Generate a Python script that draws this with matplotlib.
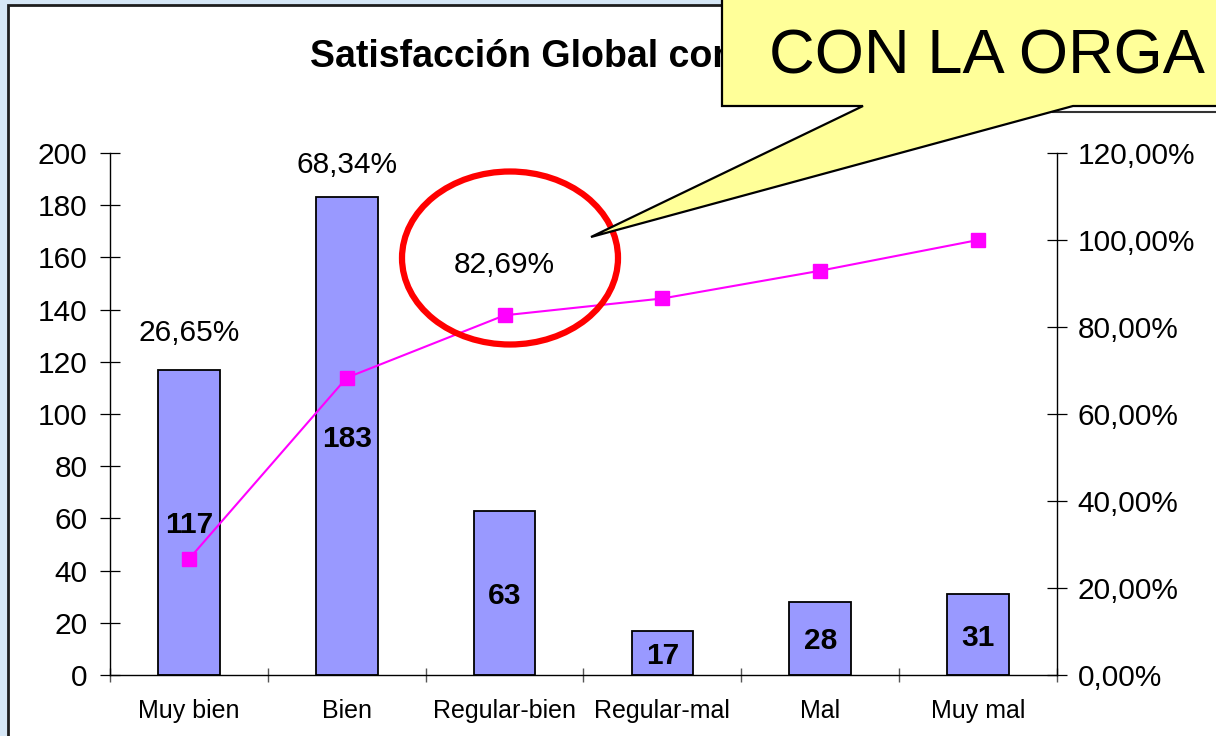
import matplotlib
matplotlib.use("Agg")
import matplotlib.pyplot as plt
from matplotlib.patches import Rectangle, Polygon, Ellipse
from matplotlib.lines import Line2D
import numpy as np

categories = ["Muy bien", "Bien", "Regular-bien", "Regular-mal", "Mal", "Muy mal"]
counts = [117, 183, 63, 17, 28, 31]
cum_pct = [0.2665, 0.6834, 0.8269, 0.8656, 0.9294, 1.0]
left_ticks = list(range(0, 201, 20))
right_ticks = [0.0, 0.2, 0.4, 0.6, 0.8, 1.0, 1.2]
title = "Satisfacción Global con"
callout_text = "CON LA ORGA"
# shown cumulative labels (index, text, y on left axis)
pct_labels = [(0, "26,65%", 128), (1, "68,34%", 192.5), (2, "82,69%", 154)]

plt.rcParams['font.family'] = ['Liberation Sans', 'DejaVu Sans']

W, H = 1216, 736
fig = plt.figure(figsize=(W / 100, H / 100), dpi=100, facecolor="#d6e7f6")

def fx(x):
    return x / W

def fy(y):
    return 1 - y / H

# white chart frame
frame = Rectangle((fx(8), fy(760)), fx(1300), (760 - 5) / H, transform=fig.transFigure,
                  facecolor="white", edgecolor="#1e1e1e", lw=2.0, zorder=-5)
fig.patches.append(frame)

ax = fig.add_axes([fx(110), fy(675), (1057 - 110) / W, (675 - 153) / H])
ax.patch.set_alpha(0)
x = np.arange(len(categories))
ax.bar(x, counts, width=0.39, color="#9999ff", edgecolor="black", lw=1.3, zorder=2)
ax.set_xlim(-0.5, len(categories) - 0.5)
ax.set_ylim(0, 200)
ax.set_yticks(left_ticks)
ax.tick_params(axis="y", direction="inout", length=14.5, width=0.9, labelsize=21.5, pad=9)
ax.set_xticks(x)
ax.set_xticklabels(categories)
ax.tick_params(axis="x", which="major", length=0, labelsize=18, pad=17)
ax.set_xticks(np.arange(-0.5, len(categories), 1.0), minor=True)
ax.tick_params(axis="x", which="minor", direction="inout", length=10, width=1.0, color="#555555")
for s in ["top", "right"]:
    ax.spines[s].set_visible(False)
for s in ["left", "bottom"]:
    ax.spines[s].set_linewidth(1.0)

for xi, c in zip(x, counts):
    ax.text(xi, c / 2, str(c), ha="center", va="center_baseline", fontsize=21.5, fontweight="bold", zorder=5)

for idx, txt, yy in pct_labels:
    ax.text(idx, yy, txt, ha="center", va="baseline", fontsize=21.5, zorder=5)

ax2 = ax.twinx()
ax2.plot(x, cum_pct, color="#ff00ff", lw=1.5, marker="s", ms=10, mec="#ff00ff", mfc="#ff00ff", zorder=3)
ax2.set_ylim(0, 1.2)
ax2.set_yticks(right_ticks)
ax2.set_yticklabels([f"{v * 100:.2f}%".replace(".", ",") for v in right_ticks])
ax2.tick_params(axis="y", direction="inout", length=14, width=0.9, labelsize=21.5, pad=8)
for s in ["top", "left", "bottom"]:
    ax2.spines[s].set_visible(False)
ax2.spines["right"].set_linewidth(1.0)

# title (partly hidden under the callout, as in the reference)
fig.text(fx(310), fy(67), title, ha="left", va="baseline", fontsize=27, fontweight="bold", zorder=3)

# red ellipse
ell = Ellipse((fx(510), fy(258)), 216 / W, 173 / H, transform=fig.transFigure,
              facecolor="none", edgecolor="#ff0000", lw=4.5, zorder=4)
fig.patches.append(ell)

# grey line under callout
fig.lines.append(Line2D([fx(1053), fx(1230)], [fy(112), fy(112)], transform=fig.transFigure,
                        color="#333333", lw=1.5, zorder=4))

# callout
pts = [(722, -10), (722, 106), (863, 106), (591, 237), (1073, 106), (1240, 106), (1240, -10)]
call = Polygon([(fx(a), fy(b)) for a, b in pts], closed=True, transform=fig.transFigure,
               facecolor="#ffff99", edgecolor="black", lw=1.6, zorder=5)
fig.patches.append(call)
fig.text(fx(769), fy(74), callout_text, ha="left", va="baseline", fontsize=45.5, zorder=6)

fig.savefig("out.png", dpi=100, facecolor=fig.get_facecolor())
